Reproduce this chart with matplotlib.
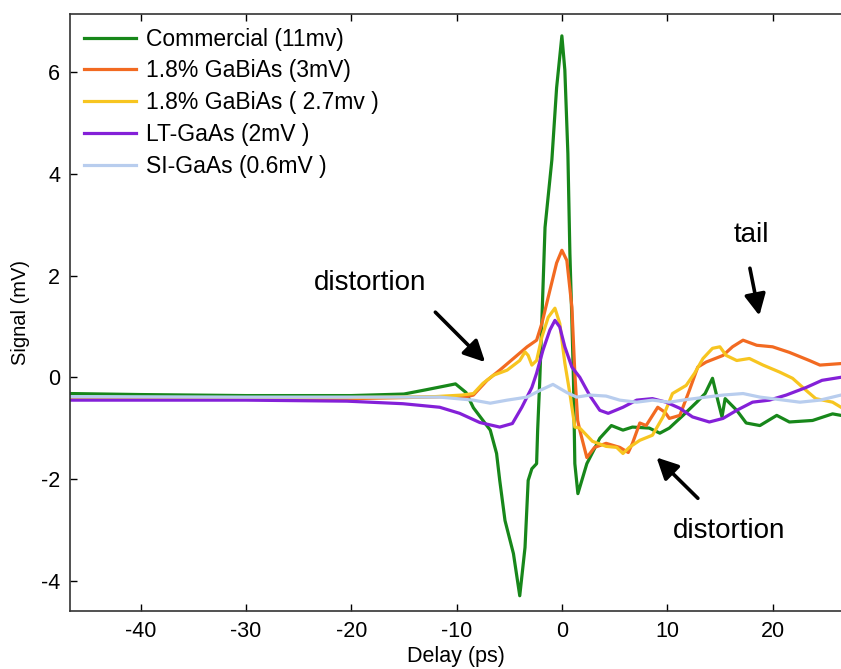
import matplotlib
matplotlib.use("Agg")
from matplotlib import pyplot as plt

plt.rcParams['font.family'] = ['Liberation Sans', 'DejaVu Sans']
plt.rcParams['axes.unicode_minus'] = False

# delay (ps) / signal (mV) samples for each emitter
commercial_x = [-46.7, -40, -30, -20, -15, -13, -11.3, -10.1, -9.1, -8.4, -6.8, -6.2, -5.9, -5.4, -4.6, -4.0,
                -3.5, -3.2, -2.85, -2.4, -2.3, -2.1, -1.9, -1.6, -0.95, -0.5, 0.0, 0.28, 0.57, 0.76, 0.95, 1.1,
                1.23, 1.52, 2.37, 3.6, 4.7, 5.8, 6.7, 8.3, 9.3, 10.2, 11.5, 12.8, 13.6, 14.3, 14.8, 15.2, 15.5,
                16.6, 17.5, 18.8, 20.4, 21.6, 23.8, 25.7, 26.5]
commercial_y = [-0.32, -0.34, -0.36, -0.36, -0.33, -0.25, -0.18, -0.13, -0.3, -0.6, -1.04, -1.5, -2.03, -2.82,
                -3.47, -4.3, -3.35, -2.03, -1.8, -1.7, -1.04, -0.06, 1.12, 2.95, 4.28, 5.7, 6.72, 6.05, 4.4,
                2.44, 1.12, -0.06, -1.7, -2.29, -1.7, -1.2, -0.95, -1.04, -0.98, -1.0, -1.1, -1.0, -0.75, -0.49,
                -0.32, -0.02, -0.45, -0.78, -0.42, -0.65, -0.9, -0.95, -0.75, -0.88, -0.85, -0.72, -0.75]

gabias3_x = [-46.7, -30, -20, -15, -11, -9, -8.4, -7.1, -5.9, -4.6, -3.3, -2.4, -1.9, -1.14, -0.5, 0.0, 0.47,
             0.95, 1.23, 1.5, 1.7, 2.37, 3.1, 4.2, 5.5, 6.3, 6.7, 7.4, 8.0, 9.1, 9.8, 10.2, 11.2, 12.1, 12.9,
             13.7, 15.3, 16.2, 17.2, 18.5, 20.0, 21.6, 23.5, 24.5, 26.5]
gabias3_y = [-0.4, -0.42, -0.42, -0.4, -0.38, -0.38, -0.35, -0.06, 0.14, 0.37, 0.6, 0.73, 1.06, 1.71, 2.25, 2.5,
             2.3, 1.38, 0.08, -0.85, -1.04, -1.58, -1.38, -1.3, -1.38, -1.48, -1.3, -0.9, -0.95, -0.59, -0.69,
             -0.81, -0.75, -0.26, 0.2, 0.3, 0.43, 0.6, 0.73, 0.63, 0.6, 0.49, 0.33, 0.24, 0.27]

gabias27_x = [-46.7, -20, -12, -9.5, -8.4, -7.5, -6.5, -5.2, -4.0, -3.5, -3.2, -2.85, -2.4, -1.9, -1.3, -0.66,
              -0.2, 0.28, 0.76, 1.23, 1.7, 2.9, 4.2, 5.2, 5.8, 6.4, 7.4, 8.6, 9.6, 10.5, 11.8, 12.6, 13.4, 14.3,
              15.0, 15.6, 16.6, 17.8, 19.1, 20.7, 21.9, 23.2, 24.1, 25.7, 26.5]
gabias27_y = [-0.4, -0.4, -0.38, -0.35, -0.32, -0.12, 0.04, 0.14, 0.33, 0.5, 0.43, 0.24, 0.33, 0.79, 1.18, 1.36,
              1.06, 0.28, -0.32, -0.98, -1.0, -1.26, -1.36, -1.38, -1.5, -1.38, -1.24, -1.14, -0.78, -0.32,
              -0.16, 0.08, 0.37, 0.57, 0.6, 0.43, 0.33, 0.37, 0.24, 0.1, -0.02, -0.26, -0.42, -0.49, -0.59]

ltgaas_x = [-46.7, -30, -20.4, -15.1, -11.6, -9.7, -7.8, -5.9, -4.7, -3.8, -2.85, -2.4, -1.8, -1.14, -0.66,
            -0.2, 0.28, 0.95, 1.7, 2.65, 3.6, 4.4, 5.8, 7.1, 8.6, 9.9, 11.2, 12.4, 14.0, 15.3, 16.6, 18.1, 19.7,
            21.3, 23.2, 24.7, 26.5]
ltgaas_y = [-0.45, -0.45, -0.47, -0.52, -0.59, -0.71, -0.89, -0.98, -0.91, -0.59, -0.2, 0.08, 0.53, 0.93, 1.12,
            0.99, 0.6, 0.2, 0.0, -0.36, -0.65, -0.71, -0.59, -0.45, -0.42, -0.49, -0.61, -0.78, -0.88, -0.81,
            -0.65, -0.49, -0.45, -0.35, -0.2, -0.06, 0.0]

sigaas_x = [-46.7, -30, -20, -11.6, -8.4, -6.8, -5.2, -3.3, -2.1, -0.85, 0.47, 1.4, 2.65, 4.2, 5.5, 7.1, 8.6,
            10.2, 11.8, 13.7, 15.3, 17.2, 18.8, 20.7, 22.6, 24.5, 26.5]
sigaas_y = [-0.38, -0.39, -0.39, -0.39, -0.45, -0.51, -0.45, -0.39, -0.26, -0.14, -0.3, -0.39, -0.35, -0.37,
            -0.45, -0.49, -0.45, -0.49, -0.44, -0.39, -0.35, -0.32, -0.39, -0.44, -0.49, -0.45, -0.35]

labels = ['Commercial (11mv)', '1.8% GaBiAs (3mV)', '1.8% GaBiAs ( 2.7mv )', 'LT-GaAs (2mV )', 'SI-GaAs (0.6mV )']
colors = ['#17871a', '#f26a21', '#f7c520', '#8420d8', '#b8cdee']

fig = plt.figure(figsize=(8.41, 6.69), dpi=100)
ax = fig.add_axes([70 / 841, 1 - 611 / 669, 771 / 841, 597 / 669])

series = [(commercial_x, commercial_y), (gabias3_x, gabias3_y), (gabias27_x, gabias27_y),
          (ltgaas_x, ltgaas_y), (sigaas_x, sigaas_y)]
for (xs, ys), lab, col in zip(series, labels, colors):
    ax.plot(xs, ys, color=col, lw=2.3, label=lab)

ax.set_xlim(-46.7, 26.5)
ax.set_ylim(-4.6, 7.15)
ax.set_xticks([-40, -30, -20, -10, 0, 10, 20])
ax.set_yticks([-4, -2, 0, 2, 4, 6])
ax.tick_params(direction='in', length=5, width=1, top=True, right=False, labelsize=15.5, pad=7)
for s in ax.spines.values():
    s.set_linewidth(1.2)
    s.set_color('#333333')
ax.spines['right'].set_visible(False)
ax.set_xlabel('Delay (ps)', fontsize=15.5, labelpad=3)
ax.set_ylabel('Signal (mV)', fontsize=14.5, labelpad=8)

leg = ax.legend(loc='upper left', frameon=False, fontsize=16.5, handlelength=2.3, handletextpad=0.4,
                labelspacing=0.38, borderaxespad=0.2, bbox_to_anchor=(0.0, 1.0))

arrow = dict(arrowstyle='-|>', color='black', lw=2.6, mutation_scale=32)
ax.annotate('', xy=(-7.1, 0.26), xytext=(-12.2, 1.32), arrowprops=arrow)
ax.text(-18.2, 1.85, 'distortion', fontsize=20, ha='center', va='center')
ax.annotate('', xy=(18.8, 1.16), xytext=(17.8, 2.2), arrowprops=arrow)
ax.text(18.0, 2.8, 'tail', fontsize=20, ha='center', va='center')
ax.annotate('', xy=(8.8, -1.54), xytext=(13.1, -2.42), arrowprops=arrow)
ax.text(15.9, -3.03, 'distortion', fontsize=20, ha='center', va='center')

fig.savefig('out.png', dpi=100)
